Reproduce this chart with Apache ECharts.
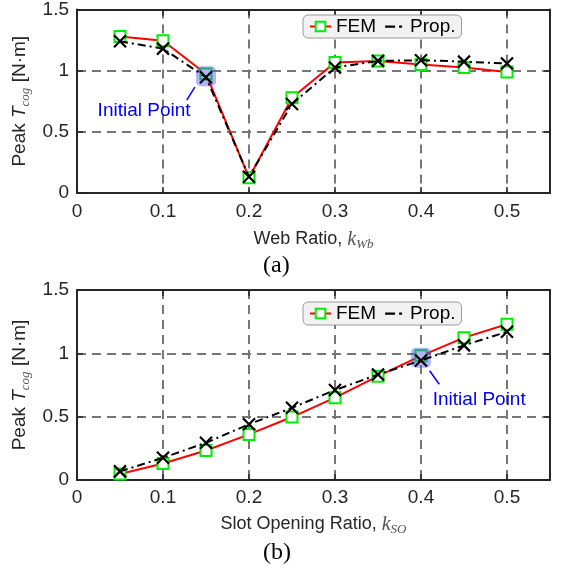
<!DOCTYPE html>
<html>
<head>
<meta charset="utf-8">
<script src="https://cdn.jsdelivr.net/npm/echarts@6/dist/echarts.min.js"></script>
<style>html,body{margin:0;padding:0;background:#fff;}#c{width:562px;height:573px;}</style>
</head>
<body>
<div id="c"></div>
<script>
// ---- data ----
var ratios = [0.05, 0.1, 0.15, 0.2, 0.25, 0.3, 0.35, 0.4, 0.45, 0.5];
var webFEM  = [1.28, 1.245, 0.973, 0.125, 0.778, 1.066, 1.08, 1.05, 1.026, 0.99];
var webProp = [1.24, 1.18, 0.946, 0.133, 0.728, 1.026, 1.08, 1.085, 1.074, 1.058];
var soFEM   = [0.048, 0.13, 0.233, 0.36, 0.497, 0.65, 0.82, 0.98, 1.124, 1.23];
var soProp  = [0.068, 0.175, 0.294, 0.44, 0.57, 0.71, 0.833, 0.944, 1.063, 1.17];
var webInitial = [0.15, 0.955];
var soInitial  = [0.4, 0.965];
var webNote = { text: [0.078, 0.672], from: [0.1276, 0.76], to: [0.137, 0.866] };
var soNote  = { text: [0.4677, 0.635], from: [0.4213, 0.756], to: [0.41, 0.862] };
var xTicks = { min: 0, max: 0.55, step: 0.1 };
var yTicks = { min: 0, max: 1.5, step: 0.5 };
var legendNames = ['FEM', 'Prop.'];
var panelLabels = ['(a)', '(b)'];
var xNames = ['Web Ratio, {k|k}{s|Wb}', 'Slot Opening Ratio, {k|k}{s|SO}'];
var yName = 'Peak {i|T}{s|cog} [N·m]';
var noteText = 'Initial Point';

function zip(xs, ys) { return xs.map(function (x, i) { return [x, ys[i]]; }); }

var FONT = 'Liberation Sans';
var AX = '#262626';
var grids = [
  { left: 77, right: 12, top: 5, height: 188 },
  { left: 77, right: 12, top: 290, height: 190 }
];

var mathRich = {
  k: { fontFamily: 'Liberation Serif', fontStyle: 'italic', fontSize: 20, color: '#555' },
  s: { fontFamily: 'Liberation Serif', fontStyle: 'italic', fontSize: 13, color: '#555', padding: [10, 0, 0, 0] },
  i: { fontFamily: FONT, fontStyle: 'italic', fontSize: 19, color: AX }
};

var xAxes = [], yAxes = [];
[0, 1].forEach(function (g) {
  xAxes.push({
    type: 'value', gridIndex: g, min: xTicks.min, max: xTicks.max, interval: xTicks.step, position: 'bottom',
    name: xNames[g], nameLocation: 'middle', nameGap: g === 0 ? 35 : 33,
    nameTextStyle: { fontFamily: FONT, fontSize: 18, color: AX, rich: mathRich },
    axisLine: { show: true, onZero: false, lineStyle: { color: AX, width: 2 } },
    axisTick: { show: true, inside: true, length: 6, lineStyle: { color: AX, width: 1.5 } },
    axisLabel: { fontFamily: FONT, fontSize: 19, color: AX, margin: g === 0 ? 9 : 8, showMaxLabel: false },
    splitLine: { show: true, lineStyle: { color: '#777', width: 2, type: [9, 6] } }
  });
  xAxes.push({
    type: 'value', gridIndex: g, min: xTicks.min, max: xTicks.max, interval: xTicks.step, position: 'top',
    axisLine: { show: true, onZero: false, lineStyle: { color: AX, width: 2 } },
    axisTick: { show: true, inside: true, length: 6, lineStyle: { color: AX, width: 1.5 } },
    axisLabel: { show: false }, splitLine: { show: false }
  });
  yAxes.push({
    type: 'value', gridIndex: g, min: yTicks.min, max: yTicks.max, interval: yTicks.step, position: 'left',
    name: yName, nameLocation: 'middle', nameGap: 38,
    nameTextStyle: { fontFamily: FONT, fontSize: 19, color: AX, rich: mathRich },
    axisLine: { show: true, onZero: false, lineStyle: { color: AX, width: 2 } },
    axisTick: { show: true, inside: true, length: 6, lineStyle: { color: AX, width: 1.5 } },
    axisLabel: { fontFamily: FONT, fontSize: 19, color: AX, margin: 8 },
    splitLine: { show: true, lineStyle: { color: '#777', width: 2, type: [9, 6] } }
  });
  yAxes.push({
    type: 'value', gridIndex: g, min: yTicks.min, max: yTicks.max, interval: yTicks.step, position: 'right',
    axisLine: { show: true, onZero: false, lineStyle: { color: AX, width: 2 } },
    axisTick: { show: true, inside: true, length: 6, lineStyle: { color: AX, width: 1.5 } },
    axisLabel: { show: false }, splitLine: { show: false }
  });
});

var xMark = 'path://M0,0L10,10M10,0L0,10';

function panelSeries(g, fem, prop, initial, note) {
  var xi = g * 2, yi = g * 2;
  return [
    {
      name: legendNames[0], type: 'line', xAxisIndex: xi, yAxisIndex: yi, z: 2,
      data: zip(ratios, fem), symbol: 'emptyRect', symbolSize: 11,
      lineStyle: { color: '#ff0000', width: 2 },
      itemStyle: { color: '#00ee00', borderColor: '#00ee00', borderWidth: 2 },
      animation: false
    },
    {
      name: 'initial', type: 'scatter', xAxisIndex: xi, yAxisIndex: yi, z: 3,
      data: [initial], symbol: 'roundRect', symbolSize: 20,
      itemStyle: { color: 'rgba(80,80,250,0.55)' }, silent: true, animation: false,
      markLine: {
        silent: true, animation: false, symbol: ['none', 'arrow'], symbolSize: [0, 9],
        lineStyle: { color: '#0000ff', width: 1.5, type: 'solid' }, label: { show: false },
        data: [[{ coord: note.from }, { coord: note.to }]]
      },
      markPoint: {
        silent: true, animation: false, symbol: 'circle', symbolSize: 1,
        itemStyle: { color: 'rgba(0,0,0,0)' },
        label: { show: true, position: 'inside', formatter: noteText, fontFamily: FONT, fontSize: 19, color: '#0000ff' },
        data: [{ coord: note.text }]
      }
    },
    {
      name: legendNames[1], type: 'line', xAxisIndex: xi, yAxisIndex: yi, z: 4,
      data: zip(ratios, prop), symbol: xMark, symbolSize: 12,
      lineStyle: { color: '#000000', width: 2, type: [8, 4, 2, 4] },
      itemStyle: { color: 'none', borderColor: '#000000', borderWidth: 2.2 },
      animation: false
    }
  ];
}

var propIcon = 'path://M0,0h0.05v0.05h-0.05z M20.95,11.95h0.05v0.05h-0.05z M1,5h10v2.2h-10z M15,5h3v2.2h-3z';
function makeLegend(top) {
  return {
    left: 303, top: top, orient: 'horizontal', itemWidth: 21, itemHeight: 12, itemGap: 8,
    backgroundColor: '#f2f2f2', borderColor: '#9a9a9a', borderWidth: 1, borderRadius: 5,
    padding: [2, 6, 2, 6], selectedMode: false,
    textStyle: { fontFamily: FONT, fontSize: 19, color: '#000' },
    data: [
      { name: legendNames[0] },
      { name: legendNames[1], icon: propIcon, itemStyle: { color: '#000', borderWidth: 0 } }
    ]
  };
}

var option = {
  backgroundColor: '#ffffff',
  animation: false,
  grid: grids,
  xAxis: xAxes,
  yAxis: yAxes,
  legend: [makeLegend(15), makeLegend(302)],
  graphic: [
    { type: 'text', left: 263, top: 254, style: { text: panelLabels[0], font: '24px "Liberation Serif"', fill: '#000' } },
    { type: 'text', left: 263, top: 541, style: { text: panelLabels[1], font: '24px "Liberation Serif"', fill: '#000' } }
  ],
  series: panelSeries(0, webFEM, webProp, webInitial, webNote).concat(panelSeries(1, soFEM, soProp, soInitial, soNote))
};

var chart = echarts.init(document.getElementById('c'), null, { renderer: 'canvas' });
chart.setOption(option);
</script>
</body>
</html>
